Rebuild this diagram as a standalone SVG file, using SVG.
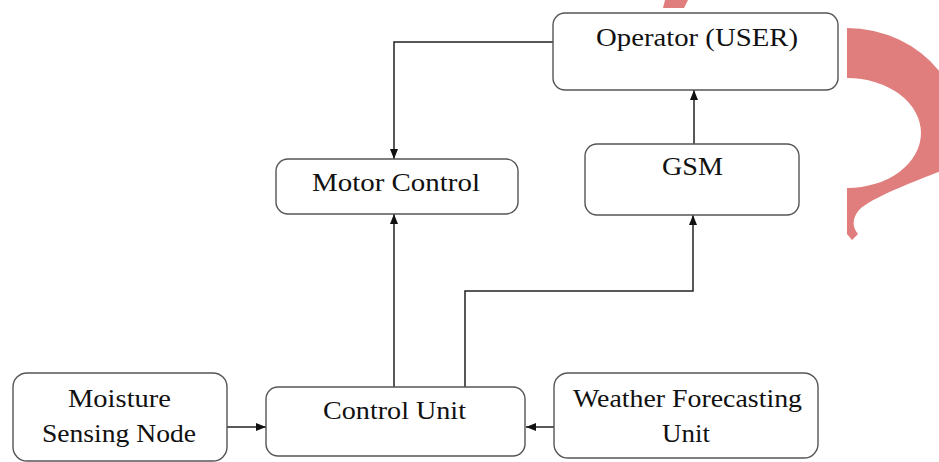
<svg xmlns="http://www.w3.org/2000/svg" width="939" height="462" viewBox="0 0 939 462">
<style>
.box{fill:#fff;stroke:#555;stroke-width:1.4}
.lbl{font-family:"Liberation Serif","Times New Roman",serif;font-size:25px;fill:#111}
.conn{fill:none;stroke:#222;stroke-width:1.5}
.deco{fill:#E07E7E}
</style>
<defs>
<marker id="arr" markerWidth="10" markerHeight="8" refX="10" refY="4" orient="auto" markerUnits="userSpaceOnUse">
<path d="M0,0 L10,4 L0,8 z" fill="#111"/>
</marker>
</defs>
<rect width="939" height="462" fill="#fff"/>
<g id="decoration">
<polygon class="deco" points="665,0 688,0 684,8 663,8"/>
<path class="deco" d="M847,28 A115,105 0 0 1 956,165 C925,178 875,195 859,210 C851,220 853,228 858,234 L852,240 L847,234 L847,188 A74,55 0 0 0 847,78 Z"/>
</g>
<g id="connectors">
<path class="conn" d="M553,42 H394 V159" marker-end="url(#arr)"/>
<path class="conn" d="M694,144 V90" marker-end="url(#arr)"/>
<path class="conn" d="M394,387 V214" marker-end="url(#arr)"/>
<path class="conn" d="M465,387 V291 H693 V215" marker-end="url(#arr)"/>
<path class="conn" d="M227,427 H266" marker-end="url(#arr)"/>
<path class="conn" d="M554,427 H526" marker-end="url(#arr)"/>
</g>
<g id="operator">
<rect class="box" x="553" y="13" width="285" height="77" rx="12"/>
<text class="lbl" x="596" y="46" textLength="202" lengthAdjust="spacingAndGlyphs">Operator (USER)</text>
</g>
<g id="gsm">
<rect class="box" x="585" y="144" width="214" height="71" rx="12"/>
<text class="lbl" x="662" y="175" textLength="61" lengthAdjust="spacingAndGlyphs">GSM</text>
</g>
<g id="motor-control">
<rect class="box" x="276" y="159" width="242" height="55" rx="12"/>
<text class="lbl" x="312" y="191" textLength="168" lengthAdjust="spacingAndGlyphs">Motor Control</text>
</g>
<g id="control-unit">
<rect class="box" x="266" y="387" width="259" height="69" rx="12"/>
<text class="lbl" x="323" y="419" textLength="143" lengthAdjust="spacingAndGlyphs">Control Unit</text>
</g>
<g id="moisture">
<rect class="box" x="13" y="373" width="214" height="88" rx="14"/>
<text class="lbl" x="68" y="407" textLength="103" lengthAdjust="spacingAndGlyphs">Moisture</text>
<text class="lbl" x="42" y="442" textLength="154" lengthAdjust="spacingAndGlyphs">Sensing Node</text>
</g>
<g id="weather">
<rect class="box" x="554" y="373" width="264" height="85" rx="14"/>
<text class="lbl" x="573" y="407" textLength="229" lengthAdjust="spacingAndGlyphs">Weather Forecasting</text>
<text class="lbl" x="662" y="442" textLength="48" lengthAdjust="spacingAndGlyphs">Unit</text>
</g>
</svg>
